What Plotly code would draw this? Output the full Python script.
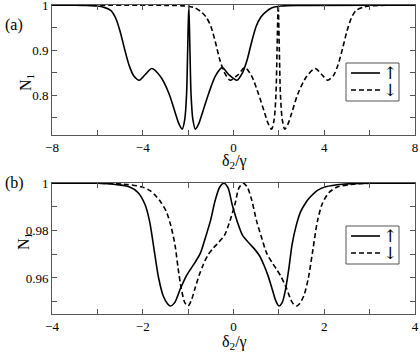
import plotly.graph_objects as go

# Pannello (a): spin up (linea continua) e spin down (tratteggiata)
xa_up = [-8, -7, -6.5, -6, -5.7, -5.4, -5.2, -5.0, -4.8, -4.6, -4.4, -4.15, -3.9, -3.6,
         -3.22, -2.85, -2.56, -2.4, -2.26, -2.15, -2.07, -2.02, -1.97, -1.92, -1.87, -1.79,
         -1.68, -1.54, -1.38, -1.09, -0.79, -0.5, -0.2, 0.15, 0.4, 0.6, 0.8, 1.0, 1.2, 1.4,
         1.7, 2.1, 3, 8]
ya_up = [1.0, 1.0, 0.9995, 0.998, 0.995, 0.988, 0.972, 0.942, 0.902, 0.866, 0.843, 0.833,
         0.845, 0.859, 0.841, 0.804, 0.759, 0.735, 0.724, 0.745, 0.80, 0.90, 1.0, 0.90, 0.80,
         0.745, 0.724, 0.735, 0.759, 0.804, 0.843, 0.861, 0.845, 0.833, 0.85, 0.878, 0.918,
         0.953, 0.973, 0.984, 0.994, 0.998, 0.9995, 1.0]

xa_dn = [-8, -3, -2.1, -1.7, -1.4, -1.2, -1.0, -0.8, -0.6, -0.4, -0.15, 0.2, 0.5, 0.79,
         1.09, 1.38, 1.54, 1.68, 1.79, 1.87, 1.92, 1.97, 2.02, 2.07, 2.15, 2.26, 2.4, 2.56,
         2.85, 3.22, 3.6, 3.9, 4.15, 4.4, 4.6, 4.8, 5.0, 5.2, 5.4, 5.7, 6, 6.5, 7, 8]
ya_dn = [1.0, 0.9995, 0.998, 0.994, 0.984, 0.973, 0.953, 0.918, 0.878, 0.85, 0.833, 0.845,
         0.861, 0.843, 0.804, 0.759, 0.735, 0.724, 0.745, 0.80, 0.90, 1.0, 0.90, 0.80, 0.745,
         0.724, 0.735, 0.759, 0.804, 0.841, 0.859, 0.845, 0.833, 0.843, 0.866, 0.902, 0.942,
         0.972, 0.988, 0.995, 0.998, 0.9995, 1.0, 1.0]

# Pannello (b)
xb_up = [-4, -3, -2.6, -2.3, -2.1, -1.95, -1.85, -1.75, -1.65, -1.55, -1.45, -1.39, -1.3,
         -1.17, -1.05, -0.95, -0.85, -0.73, -0.62, -0.51, -0.4, -0.3, -0.21, -0.12, -0.03,
         0.08, 0.2, 0.33, 0.45, 0.57, 0.67, 0.76, 0.85, 0.93, 1.0, 1.07, 1.15, 1.22, 1.29,
         1.38, 1.48, 1.6, 1.7, 1.85, 2.03, 2.4, 3, 4]
yb_up = [1.0, 1.0, 0.9995, 0.9985, 0.996, 0.991, 0.984, 0.972, 0.96, 0.9525, 0.949, 0.9482,
         0.9495, 0.9555, 0.9605, 0.9636, 0.9665, 0.9705, 0.977, 0.984, 0.993, 0.9985, 1.0,
         0.998, 0.991, 0.984, 0.978, 0.975, 0.9725, 0.9695, 0.9655, 0.961, 0.9555, 0.9505,
         0.9482, 0.9495, 0.9555, 0.964, 0.974, 0.982, 0.988, 0.992, 0.9944, 0.997, 0.9985,
         0.9996, 1.0, 1.0]

xb_dn = [-4, -3, -2.4, -2.03, -1.85, -1.7, -1.6, -1.48, -1.38, -1.29, -1.22, -1.15, -1.07,
         -1.0, -0.93, -0.85, -0.76, -0.67, -0.57, -0.45, -0.33, -0.2, -0.08, 0.03, 0.12,
         0.21, 0.3, 0.4, 0.51, 0.62, 0.73, 0.85, 0.95, 1.05, 1.17, 1.3, 1.39, 1.45, 1.55,
         1.65, 1.75, 1.85, 1.95, 2.1, 2.3, 2.6, 3, 4]
yb_dn = [1.0, 1.0, 0.9996, 0.9985, 0.997, 0.9944, 0.992, 0.988, 0.982, 0.974, 0.964, 0.9555,
         0.9495, 0.9482, 0.9505, 0.9555, 0.961, 0.9655, 0.9695, 0.9725, 0.975, 0.978, 0.984,
         0.991, 0.998, 1.0, 0.9985, 0.993, 0.984, 0.977, 0.9705, 0.9665, 0.9636, 0.9605,
         0.9555, 0.9495, 0.9482, 0.949, 0.9525, 0.96, 0.972, 0.984, 0.991, 0.996, 0.9985,
         0.9995, 1.0, 1.0]

spin_labels = ["\u2191", "\u2193"]

FONT = "Liberation Serif"
FRAME = "#555555"
W, H = 420, 354

fig = go.Figure()

def add_curve(x, y, xa, ya, dash):
    fig.add_trace(go.Scatter(x=x, y=y, xaxis=xa, yaxis=ya, mode="lines", showlegend=False,
                             line=dict(color="black", width=1.6, dash=dash,
                                       shape="spline", smoothing=0.8)))

add_curve(xa_up, ya_up, "x", "y", "solid")
add_curve(xa_dn, ya_dn, "x", "y", "5px,3px")
add_curve(xb_up, yb_up, "x2", "y2", "solid")
add_curve(xb_dn, yb_dn, "x2", "y2", "5px,3px")

def axis_style(**kw):
    d = dict(showline=True, linecolor=FRAME, linewidth=1, mirror="ticks",
             ticks="inside", ticklen=5, tickcolor=FRAME, showgrid=False, zeroline=False,
             automargin=False, ticklabeloverflow="allow",
             tickfont=dict(family=FONT, size=13, color="black"))
    d.update(kw)
    return d

dom_x = [52 / W, 415 / W]

fig.update_layout(
    template="none",
    font=dict(family=FONT, size=13, color="black"),
    width=W, height=H,
    margin=dict(l=0, r=0, t=0, b=0),
    paper_bgcolor="white", plot_bgcolor="white",
    xaxis=axis_style(domain=dom_x, anchor="y", range=[-8, 8], tick0=-8, dtick=4,
                     minor=dict(dtick=2, ticks="inside", ticklen=5, tickcolor=FRAME)),
    yaxis=axis_style(domain=[1 - 135 / H, 1 - 5 / H], anchor="x", range=[0.711, 1.0003],
                     tick0=1.0, dtick=0.1,
                     minor=dict(dtick=0.05, ticks="inside", ticklen=5, tickcolor=FRAME)),
    xaxis2=axis_style(domain=dom_x, anchor="y2", range=[-4, 4], tick0=-4, dtick=2,
                      minor=dict(dtick=1, ticks="inside", ticklen=5, tickcolor=FRAME)),
    yaxis2=axis_style(domain=[1 - 314 / H, 1 - 183 / H], anchor="x2",
                      range=[0.9448, 1.0001], tick0=1.0, dtick=0.02,
                      minor=dict(dtick=0.01, ticks="inside", ticklen=5, tickcolor=FRAME)),
)

# legenda disegnata a mano (riquadro, campione di linea, freccia dello spin)
def px(x):
    return x / W

def py(y):
    return 1 - y / H

for top in (63, 226):
    fig.add_shape(type="rect", xref="paper", yref="paper", x0=px(346), x1=px(399),
                  y0=py(top), y1=py(top + 38), line=dict(color=FRAME, width=1),
                  fillcolor="white", layer="above")
    for k, dash in enumerate(["solid", "5px,3px"]):
        yy = top + 10 + 17 * k
        fig.add_shape(type="line", xref="paper", yref="paper", x0=px(351), x1=px(380),
                      y0=py(yy), y1=py(yy), line=dict(color="black", width=1.6, dash=dash),
                      layer="above")
        fig.add_annotation(text=spin_labels[k], x=px(390), y=py(yy), xref="paper",
                           yref="paper", showarrow=False, xanchor="center", yanchor="middle",
                           font=dict(family="DejaVu Serif", size=17, color="black"))

# etichette: pannelli e titoli assi
lab = dict(font=dict(family=FONT, size=16, color="black"), showarrow=False,
           xref="paper", yref="paper")
fig.add_annotation(text="(a)", x=px(3), y=py(14), xanchor="left", **lab)
fig.add_annotation(text="(b)", x=px(3), y=py(183), xanchor="left", **lab)
fig.add_annotation(text="N<sub>1</sub>", x=px(15), y=py(72), textangle=-90, **lab)
fig.add_annotation(text="N<sub>1</sub>", x=px(13), y=py(252), textangle=-90, **lab)
fig.add_annotation(text="\u03b4<sub>2</sub>/\u03b3", x=px(234), y=py(150), yanchor="top", **lab)
fig.add_annotation(text="\u03b4<sub>2</sub>/\u03b3", x=px(234), y=py(331), yanchor="top", **lab)

# niente margine della pagina, cosi' il grafico parte da (0, 0)
fig.write_html("out.html", config={"displayModeBar": False},
               post_script="document.body.style.margin='0';")
